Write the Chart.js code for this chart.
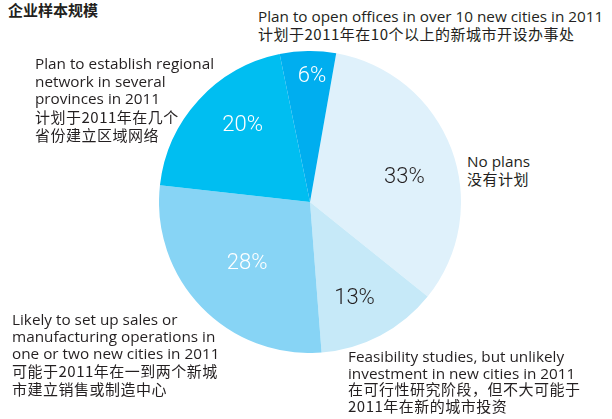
<!DOCTYPE html>
<html>
<head>
<meta charset="utf-8">
<script src="https://cdn.jsdelivr.net/npm/chart.js@4/dist/chart.umd.min.js"></script>
<style>
  body { margin: 0; width: 612px; height: 419px; background: #fff; position: relative; overflow: hidden;
         font-family: "Open Sans", "Noto Sans CJK SC", sans-serif; color: #231f20; }
  .lbl { position: absolute; font-size: 15.3px; line-height: 17px; white-space: nowrap; }
  .lbl .zh { font-family: "Noto Sans CJK SC", sans-serif; font-size: 15px; letter-spacing: 0.5px; }
  #title { position: absolute; left: 8px; top: 0px; font-size: 15px; line-height: 20px; font-weight: bold; font-family: "Noto Sans CJK SC", sans-serif; }
  #pieCanvas { position: absolute; left: 159px; top: 51px; }
</style>
</head>
<body>
<div id="title">企业样本规模</div>
<canvas id="pieCanvas" width="302" height="302"></canvas>
<div class="lbl" style="left:258px; top:8px">Plan to open offices in over 10 new cities in 2011<br><span class="zh">计划于2011年在10个以上的新城市开设办事处</span></div>
<div class="lbl" style="left:35px; top:55px; line-height:17.5px">Plan to establish regional<br>network in several<br>provinces in 2011<br><span class="zh">计划于2011年在几个<br>省份建立区域网络</span></div>
<div class="lbl" style="left:467px; top:153px">No plans<br><span class="zh">没有计划</span></div>
<div class="lbl" style="left:12px; top:311px">Likely to set up sales or<br>manufacturing operations in<br>one or two new cities in 2011<br><span class="zh">可能于2011年在一到两个新城<br>市建立销售或制造中心</span></div>
<div class="lbl" style="left:348px; top:348px; line-height:16.7px">Feasibility studies, but unlikely<br>investment in new cities in 2011<br><span class="zh">在可行性研究阶段，但不大可能于<br>2011年在新的城市投资</span></div>
<script>
const categories = ["No plans", "Feasibility studies", "Likely to set up", "Regional network", "Offices in 10+ cities"];
const shares = [33, 13, 28, 20, 6];
const sliceColors = ["#dff1fb", "#c6e9f8", "#87d4f5", "#00bef1", "#00aeef"];
const pctColors = ["#231f20", "#231f20", "#ffffff", "#ffffff", "#ffffff"];
// where each % label sits: fraction of radius, and a small turn (degrees) off the slice middle
const labelRadius = [0.65, 0.69, 0.57, 0.69, 0.85];
const labelTurn = [4.6, 2.5, 0.9, 7.3, 1.7];

const pctLabels = {
    id: "pctLabels",
    afterDatasetsDraw(chart) {
        const ctx = chart.ctx;
        const meta = chart.getDatasetMeta(0);
        ctx.save();
        ctx.font = "300 22px Roboto, sans-serif";
        ctx.textAlign = "center";
        ctx.textBaseline = "alphabetic";
        meta.data.forEach((arc, i) => {
            const mid = (arc.startAngle + arc.endAngle) / 2 + labelTurn[i] * Math.PI / 180;
            const r = arc.outerRadius * labelRadius[i];
            ctx.fillStyle = pctColors[i];
            ctx.fillText(shares[i] + "%", arc.x + Math.cos(mid) * r, arc.y + Math.sin(mid) * r + 8);
        });
        ctx.restore();
    }
};

new Chart(document.getElementById("pieCanvas"), {
    type: "pie",
    data: {
        labels: categories,
        datasets: [{
            data: shares,
            backgroundColor: sliceColors,
            borderWidth: 0,
            hoverOffset: 0
        }]
    },
    options: {
        responsive: false,
        animation: false,
        rotation: 10,
        layout: { padding: 0 },
        plugins: { legend: { display: false }, tooltip: { enabled: false } }
    },
    plugins: [pctLabels]
});
</script>
</body>
</html>
